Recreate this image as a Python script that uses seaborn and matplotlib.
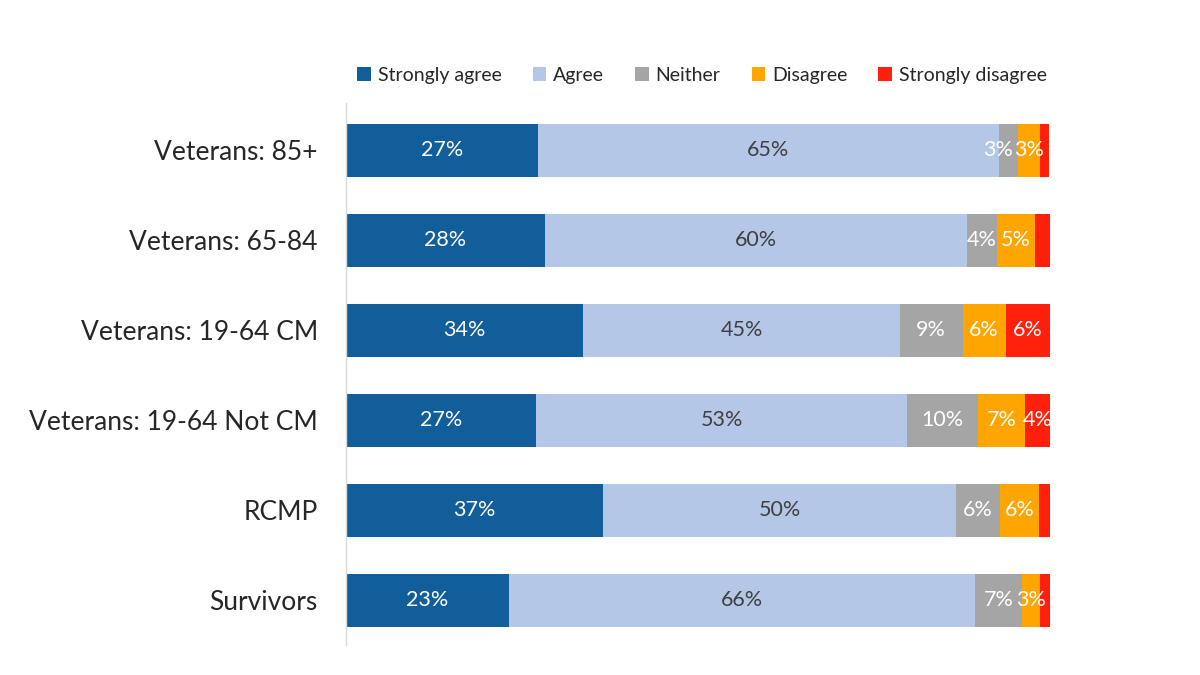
import numpy as np
import pandas as pd
import matplotlib
matplotlib.use("Agg")
import matplotlib.pyplot as plt
from matplotlib.patches import Patch
import seaborn as sns

categories = ["Veterans: 85+", "Veterans: 65-84", "Veterans: 19-64 CM",
              "Veterans: 19-64 Not CM", "RCMP", "Survivors"]
series_names = ["Strongly agree", "Agree", "Neither", "Disagree", "Strongly disagree"]
strongly_agree = [27.3, 28.3, 33.7, 27.1, 36.6, 23.2]
agree = [65.4, 59.9, 45.0, 52.6, 50.0, 66.2]
neither = [2.8, 4.3, 8.9, 10.1, 6.3, 6.6]
disagree = [3.1, 5.4, 6.1, 6.6, 5.5, 2.6]
strongly_disagree = [1.3, 2.1, 6.3, 3.6, 1.6, 1.4]

colors = ["#125E9A", "#B4C7E7", "#A5A5A5", "#FFA500", "#FF200C"]
label_colors = ["white", "#404040", "white", "white", "white"]

sns.set_theme(style="white")
plt.rcParams['font.family'] = ['Lato', 'DejaVu Sans']

series = [strongly_agree, agree, neither, disagree, strongly_disagree]
vals = np.array(series, dtype=float)
cum = np.cumsum(vals, axis=0)

fig = plt.figure(figsize=(12, 6.75), dpi=100)
ax = fig.add_axes([0.288, 0.044, 0.587, 0.803])

for i in reversed(range(len(series))):
    df = pd.DataFrame({"cat": categories, "val": cum[i]})
    sns.barplot(data=df, x="val", y="cat", order=categories, orient="h",
                color=colors[i], saturation=1, width=0.59, ax=ax,
                edgecolor="none", linewidth=0)

min_gap = 4.4  # minimal distance between label centres (in % units)
for j, cat in enumerate(categories):
    labelled = [i for i in range(len(series)) if vals[i, j] >= 2.5]
    centres = {i: cum[i, j] - vals[i, j] / 2 for i in labelled}
    # nudge a label leftwards when it would collide with the next one
    for a, b in zip(labelled[::-1][1:], labelled[::-1][:-1]):
        if centres[b] - centres[a] < min_gap:
            centres[a] = centres[b] - min_gap
    for i in labelled:
        ax.text(centres[i], j, f"{vals[i, j]:.0f}%", ha="center", va="center",
                color=label_colors[i], fontsize=15.5)

ax.set_xlim(0, 100)
ax.set_ylim(5.5, -0.52)
ax.set_xlabel("")
ax.set_ylabel("")
ax.set_xticks([])
ax.tick_params(axis="y", labelsize=19, length=0, pad=20)
for s in ["top", "right", "bottom"]:
    ax.spines[s].set_visible(False)
ax.spines["left"].set_color("#D9D9D9")
ax.spines["left"].set_linewidth(1)

handles = [Patch(facecolor=c, edgecolor="none", label=n) for c, n in zip(colors, series_names)]
fig.legend(handles=handles, loc="center", bbox_to_anchor=(0.585, 0.888), ncol=5,
           frameon=False, fontsize=14, handlelength=0.7, handleheight=0.7,
           handletextpad=0.35, columnspacing=1.6)

fig.savefig("out.png", dpi=100)
